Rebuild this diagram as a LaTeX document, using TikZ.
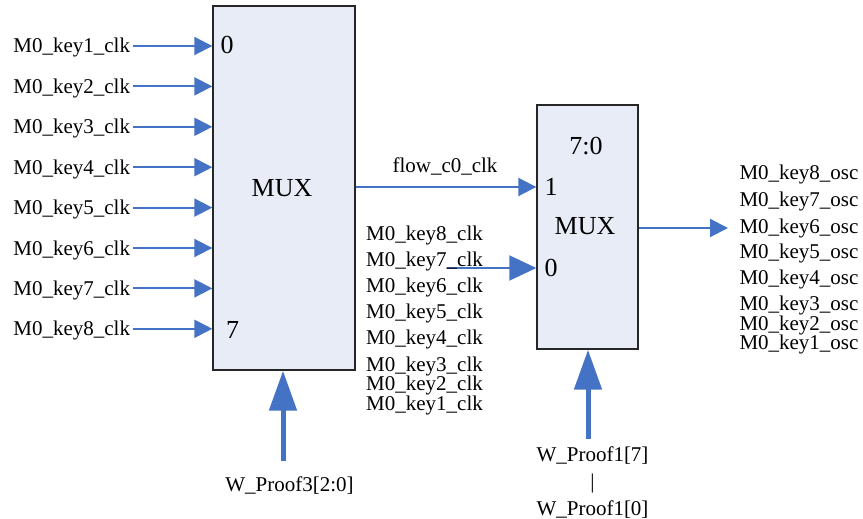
\documentclass[tikz,border=0pt]{standalone}
\usepackage{fontspec}
\setmainfont{Liberation Serif}
\usetikzlibrary{arrows.meta}
\definecolor{wire}{HTML}{4472C4}
\definecolor{muxfill}{HTML}{E8ECF7}
\begin{document}
\begin{tikzpicture}[x=1pt,y=-1pt,
  lbl/.style={font=\fontsize{21}{25}\selectfont, inner sep=0pt, text height=14pt, text depth=0pt},
  big/.style={font=\fontsize{26}{30}\selectfont, inner sep=0pt, text height=17.6pt, text depth=0pt},
  muxbox/.style={draw=black!85, line width=1.4pt, fill=muxfill, inner sep=0pt},
  wirearr/.style={draw=wire, line width=2pt, -{Triangle[length=18pt,width=18pt]}},
  wirebig/.style={draw=wire, line width=2pt, -{Triangle[length=27pt,width=25pt]}},
  busarr/.style={draw=wire, line width=5pt, -{Triangle[length=40pt,width=27pt]}},
]
\useasboundingbox (0,0) rectangle (863,519);

% boxes
\node[muxbox, minimum width=142pt, minimum height=364pt] (muxA) at (284,188) {};
\node[muxbox, minimum width=101pt, minimum height=244pt] (muxB) at (587.5,227) {};

% box texts
\node[big] (a0) at (227,45) {0};
\node[big] (a7) at (232.5,330) {7};
\node[big] (amux) at (282,188) {MUX};
\node[big] (b70) at (586,146) {7:0};
\node[big] (b1) at (551,187) {1};
\node[big] (bmux) at (585,226) {MUX};
\node[big] (b0) at (551,268) {0};

% inputs of left mux
\foreach \i in {1,...,8} {
  \node[lbl, anchor=east, outer xsep=3pt] (k\i) at (133,{46+40.4*(\i-1)}) {M0\_key\i\_clk};
  \draw[wirearr] (k\i.east) -- (k\i.east -| muxA.west);
}

% flow_c0_clk
\draw[wirearr] (muxA.east |- b1) -- (muxB.west |- b1);
\node[lbl] (flow) at (445,165) {flow\_c0\_clk};

% input 0 of right mux
\coordinate (s0) at (447,268);
\draw[wirebig] (s0) -- (s0 -| muxB.west);
\foreach \i/\y in {8/233,7/259,6/285,5/311,4/337.5,3/364,2/383.5,1/403} {
  \node[lbl, anchor=west] (c\i) at (366,\y) {M0\_key\i\_clk};
}

% output
\coordinate (oe) at (728,228);
\draw[wirearr] (muxB.east |- oe) -- (oe);
\foreach \i/\y in {8/172.5,7/199.3,6/226,5/251.7,4/277.3,3/303.3,2/323.3,1/342.7} {
  \node[lbl, anchor=west] (o\i) at (739.3,\y) {M0\_key\i\_osc};
}

% select buses
\coordinate (ta) at (283,461);
\draw[busarr] (ta) -- (ta |- muxA.south);
\node[lbl] (wp3) at (289.5,484) {W\_Proof3[2:0]};

\coordinate (tb) at (588,439);
\draw[busarr] (tb) -- (tb |- muxB.south);
\node[lbl] (wp17) at (592.5,454.5) {W\_Proof1[7]};
\node[lbl] (bar) at (592.5,481) {|};
\node[lbl] (wp10) at (592.5,508) {W\_Proof1[0]};
\end{tikzpicture}
\end{document}
